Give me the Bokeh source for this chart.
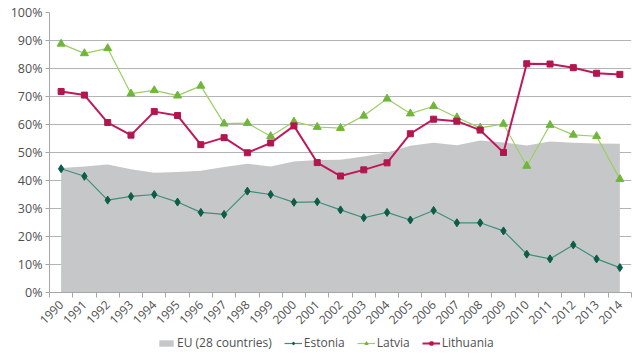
from math import pi
from bokeh.plotting import figure
from bokeh.layouts import column
from bokeh.models import (Range1d, FixedTicker, Legend, LegendItem, ColumnDataSource,
                          CustomJSTickFormatter)
from bokeh.embed import file_html
from bokeh.resources import INLINE

years = list(range(1990, 2015))
eu28 = [44.5, 45.0, 45.7, 44.0, 42.8, 43.0, 43.5, 44.8, 46.0, 45.0, 46.8, 47.3, 47.4,
        48.6, 50.0, 52.4, 53.5, 52.6, 54.3, 53.6, 52.5, 53.9, 53.5, 53.2, 53.1]
estonia = [44.2, 41.5, 33.0, 34.3, 35.0, 32.3, 28.6, 27.9, 36.2, 35.0, 32.2, 32.4, 29.5,
           26.7, 28.6, 25.9, 29.3, 24.9, 24.9, 22.0, 13.7, 12.0, 17.0, 12.0, 8.9]
latvia = [88.8, 85.4, 87.2, 71.0, 72.2, 70.3, 73.8, 60.3, 60.5, 55.8, 61.0, 59.1, 58.7,
          63.1, 69.2, 63.9, 66.5, 62.5, 58.8, 60.2, 45.2, 59.8, 56.3, 55.8, 40.5]
lithuania = [71.8, 70.5, 60.7, 56.2, 64.6, 63.2, 52.8, 55.3, 49.9, 53.4, 59.5, 46.4, 41.6,
             43.8, 46.3, 56.7, 61.9, 61.2, 58.0, 50.0, 81.7, 81.6, 80.3, 78.3, 77.9]
y_ticks = list(range(0, 101, 10))

FONT = "Open Sans"
TXT = "#505050"

src = ColumnDataSource(dict(year=years, eu=eu28, est=estonia, lat=latvia, lit=lithuania,
                            zero=[0] * len(years)))

STY = dict(
    eu=dict(fill_color="#c6c7c9"),
    est_l=dict(line_color="#3f8f7a", line_width=1.2),
    est_m=dict(marker="diamond", size=8, fill_color="#0d5c48", line_color="#0d5c48"),
    lat_l=dict(line_color="#9ccf62", line_width=1.2),
    lat_m=dict(marker="triangle", size=8, fill_color="#6fb63a", line_color="#6fb63a"),
    lit_l=dict(line_color="#c0185a", line_width=2),
    lit_m=dict(marker="square", size=6, fill_color="#b3154f", line_color="#b3154f"),
)

p = figure(width=632, height=335, output_backend="svg", toolbar_location=None,
           x_range=Range1d(years[0] - 0.5, years[-1] + 0.5), y_range=Range1d(0, 100),
           min_border_left=49, min_border_right=1, min_border_top=12, min_border_bottom=43)
p.outline_line_color = None
p.background_fill_color = "white"

# axes
p.yaxis.ticker = FixedTicker(ticks=y_ticks, minor_ticks=[])
p.yaxis.formatter = CustomJSTickFormatter(code="return tick.toFixed(0) + '%';")
p.yaxis.axis_line_color = "#a6a6a6"
p.yaxis.major_tick_line_color = "#a6a6a6"
p.yaxis.major_tick_out = 4
p.yaxis.major_tick_in = 0
p.yaxis.minor_tick_line_color = None
p.yaxis.major_label_text_font = FONT
p.yaxis.major_label_text_font_size = "12.5px"
p.yaxis.major_label_text_color = TXT
p.yaxis.major_label_standoff = 3

p.xaxis.ticker = FixedTicker(ticks=years, minor_ticks=[y - 0.5 for y in years] + [years[-1] + 0.5])
p.xaxis.major_label_overrides = {y: str(y) for y in years}
p.xaxis.major_tick_line_color = None
p.xaxis.minor_tick_line_color = "#a6a6a6"
p.xaxis.minor_tick_out = 5
p.xaxis.minor_tick_in = 0
p.xaxis.axis_line_color = "#a6a6a6"
p.xaxis.major_label_orientation = pi / 4
p.xaxis.major_label_text_font = FONT
p.xaxis.major_label_text_font_size = "12px"
p.xaxis.major_label_text_color = TXT
p.xaxis.major_label_standoff = 4

p.xgrid.grid_line_color = None
p.ygrid.ticker = FixedTicker(ticks=y_ticks[1:])
p.ygrid.grid_line_color = "#b4b4b4"
p.ygrid.grid_line_width = 1

# series
p.varea(x="year", y1="zero", y2="eu", source=src, **STY["eu"])
p.line("year", "est", source=src, **STY["est_l"])
p.scatter("year", "est", source=src, **STY["est_m"])
p.line("year", "lat", source=src, **STY["lat_l"])
p.scatter("year", "lat", source=src, **STY["lat_m"])
p.line("year", "lit", source=src, **STY["lit_l"])
p.scatter("year", "lit", source=src, **STY["lit_m"])

# legend strip below the chart (its glyphs lie outside its own visible range)
lg = figure(width=632, height=24, output_backend="svg", toolbar_location=None,
            x_range=Range1d(0, 1), y_range=Range1d(0, 1), x_axis_type=None, y_axis_type=None,
            min_border_left=0, min_border_right=0, min_border_top=0, min_border_bottom=0)
lg.outline_line_color = None
lg.xgrid.visible = False
lg.ygrid.visible = False
r_eu = lg.varea(x="year", y1="zero", y2="eu", source=src, **STY["eu"])
r_el = lg.line("year", "est", source=src, **STY["est_l"])
r_em = lg.scatter("year", "est", source=src, **STY["est_m"])
r_ll = lg.line("year", "lat", source=src, **STY["lat_l"])
r_lm = lg.scatter("year", "lat", source=src, **STY["lat_m"])
r_tl = lg.line("year", "lit", source=src, **STY["lit_l"])
r_tm = lg.scatter("year", "lit", source=src, **STY["lit_m"])

legend = Legend(items=[
    LegendItem(label="EU (28 countries)", renderers=[r_eu]),
    LegendItem(label="Estonia", renderers=[r_el, r_em]),
    LegendItem(label="Latvia", renderers=[r_ll, r_lm]),
    LegendItem(label="Lithuania", renderers=[r_tl, r_tm]),
], orientation="horizontal", location=(108, 8), padding=0, margin=0, spacing=12,
    glyph_width=18, glyph_height=8, label_standoff=2, label_height=14,
    label_text_font=FONT, label_text_font_size="12px", label_text_color=TXT,
    background_fill_alpha=0, border_line_color=None)
lg.add_layout(legend, "center")

open("out.html", "w").write(file_html(column(p, lg, spacing=0), INLINE))
